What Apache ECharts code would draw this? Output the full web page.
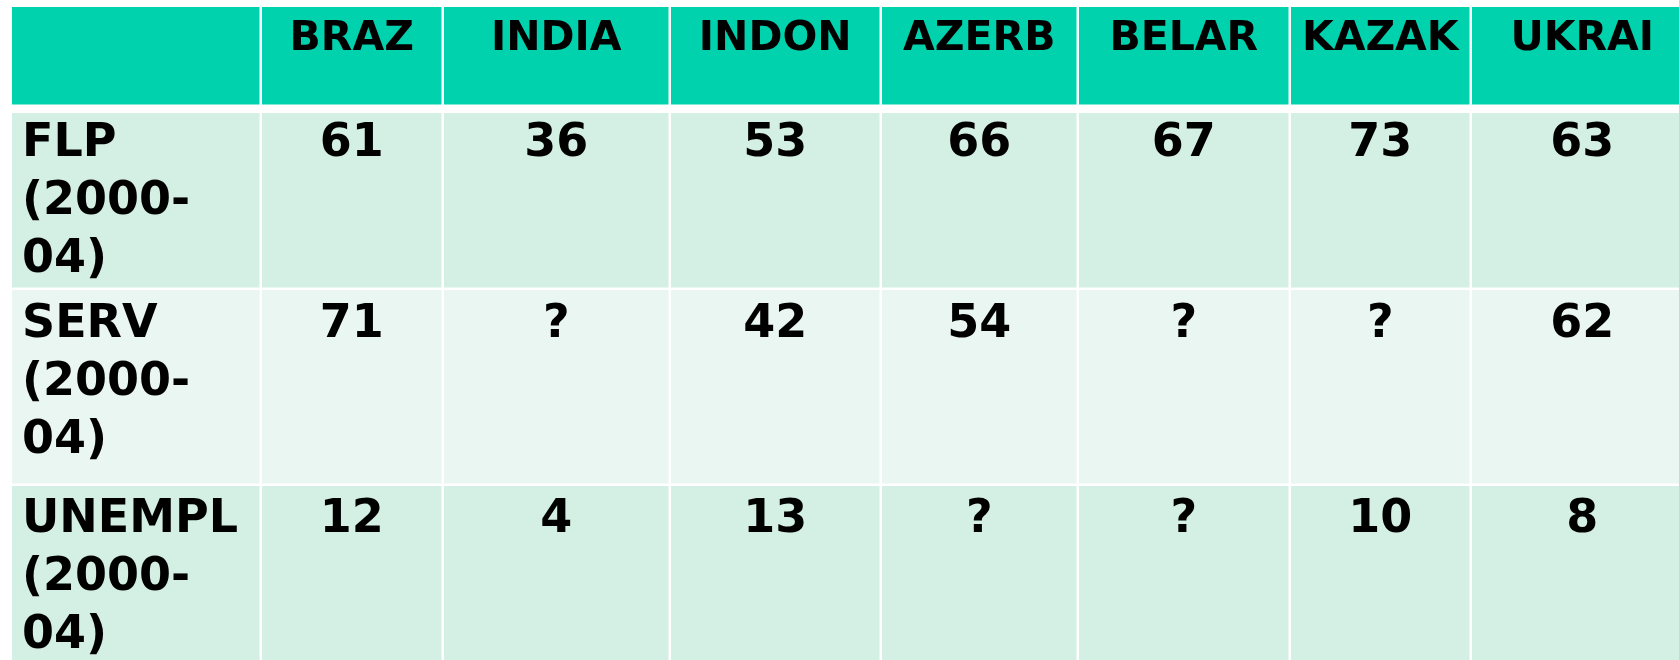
<!DOCTYPE html>
<html>
<head>
<meta charset="utf-8">
<script src="https://cdn.jsdelivr.net/npm/echarts@6/dist/echarts.min.js"></script>
<style>
html, body { margin: 0; padding: 0; background: #fff; }
#main { width: 1679px; height: 660px; }
</style>
</head>
<body>
<div id="main"></div>
<script>
var countries = ['BRAZ', 'INDIA', 'INDON', 'AZERB', 'BELAR', 'KAZAK', 'UKRAI'];
var rowLabels = ['FLP\n(2000-\n04)', 'SERV\n(2000-\n04)', 'UNEMPL\n(2000-\n04)'];
var flp = ['61', '36', '53', '66', '67', '73', '63'];
var serv = ['71', '?', '42', '54', '?', '?', '62'];
var unempl = ['12', '4', '13', '?', '?', '10', '8'];

// table layout, in axis units (= page pixels)
var colEdges = [12, 262, 444, 671, 882, 1079, 1291, 1472, 1695];
var rowTops = [7, 113, 290, 486];
var rowBottoms = [104.5, 287.5, 483.5, 720];
var textPads = [12, 2, 6, 5];
var gap = 2.5;
var rowFills = ['#00d2ae', '#d4efe4', '#eaf6f2', '#d4efe4'];

// build cells: [col, row, text]
var cells = [[0, 0, '']];
countries.forEach(function (c, i) {
  cells.push([i + 1, 0, c]);
});
[flp, serv, unempl].forEach(function (vals, r) {
  cells.push([0, r + 1, rowLabels[r]]);
  vals.forEach(function (v, i) {
    cells.push([i + 1, r + 1, v]);
  });
});

function renderCell(params, api) {
  var c = api.value(0);
  var r = api.value(1);
  var text = cells[params.dataIndex][2];
  var p0 = api.coord([colEdges[c], rowTops[r]]);
  var p1 = api.coord([colEdges[c + 1] - gap, rowBottoms[r]]);
  var header = r === 0;
  var tx = c === 0 ? p0[0] + 10 : (p0[0] + p1[0]) / 2;
  return {
    type: 'group',
    children: [{
      type: 'rect',
      shape: { x: p0[0], y: p0[1], width: p1[0] - p0[0], height: p1[1] - p0[1] },
      style: { fill: rowFills[r] }
    }, {
      type: 'text',
      style: {
        text: text,
        x: tx,
        y: p0[1] + textPads[r],
        align: c === 0 ? 'left' : 'center',
        verticalAlign: 'top',
        fontFamily: 'DejaVu Sans',
        fontWeight: 'bold',
        fontSize: header ? 41 : 46,
        lineHeight: header ? 41 : 58,
        fill: '#000'
      }
    }]
  };
}

var chart = echarts.init(document.getElementById('main'));
chart.setOption({
  animation: false,
  backgroundColor: '#fff',
  grid: { left: 0, right: 0, top: 0, bottom: 0 },
  xAxis: { type: 'value', min: 0, max: 1679, show: false },
  yAxis: { type: 'value', min: 0, max: 660, inverse: true, show: false },
  series: [{
    type: 'custom',
    renderItem: renderCell,
    clip: true,
    data: cells.map(function (d) { return [d[0], d[1]]; })
  }]
});
</script>
</body>
</html>
